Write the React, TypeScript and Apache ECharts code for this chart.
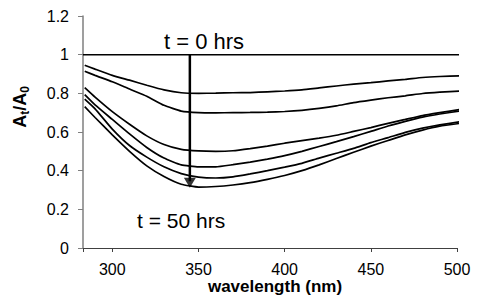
import React, { useEffect, useRef } from "react";
import * as echarts from "echarts";

const wavelengths = [284, 290, 300, 310, 320, 330, 340, 350, 360, 370, 380, 390, 400, 410, 420, 430, 440, 450, 460, 470, 480, 490, 502];

const baselineWl = [283, 502];
const baselineVals = [1, 1];

const curve1 = [0.945, 0.925, 0.893, 0.868, 0.842, 0.818, 0.803, 0.800, 0.801, 0.803, 0.804, 0.808, 0.812, 0.818, 0.828, 0.838, 0.848, 0.855, 0.864, 0.872, 0.882, 0.887, 0.890];
const curve2 = [0.914, 0.893, 0.86, 0.822, 0.785, 0.738, 0.708, 0.700, 0.699, 0.700, 0.701, 0.703, 0.706, 0.712, 0.722, 0.735, 0.752, 0.765, 0.777, 0.787, 0.799, 0.806, 0.812];
const curve3 = [0.829, 0.78, 0.705, 0.64, 0.58, 0.535, 0.51, 0.502, 0.500, 0.503, 0.514, 0.527, 0.542, 0.555, 0.568, 0.583, 0.603, 0.623, 0.645, 0.665, 0.685, 0.700, 0.717];
const curve4 = [0.793, 0.74, 0.665, 0.59, 0.52, 0.465, 0.43, 0.42, 0.420, 0.431, 0.444, 0.46, 0.478, 0.50, 0.525, 0.55, 0.576, 0.603, 0.631, 0.655, 0.677, 0.693, 0.709];
const curve5 = [0.77, 0.72, 0.615, 0.53, 0.47, 0.42, 0.385, 0.367, 0.362, 0.368, 0.383, 0.40, 0.418, 0.438, 0.465, 0.49, 0.515, 0.545, 0.571, 0.598, 0.62, 0.637, 0.653];
const curve6 = [0.731, 0.675, 0.585, 0.50, 0.425, 0.37, 0.33, 0.315, 0.318, 0.326, 0.338, 0.355, 0.375, 0.40, 0.43, 0.463, 0.495, 0.527, 0.556, 0.585, 0.61, 0.63, 0.645];

const curves = [curve1, curve2, curve3, curve4, curve5, curve6];

const arrowWl = 345;
const arrowStart = 1;
const arrowShaftEnd = 0.345;
const arrowHeadCenter = 0.338;

const xTickValues = [283, 300, 350, 400, 450, 500];
const xLabelValues = [300, 350, 400, 450, 500];

const labelTop = "t = 0 hrs";
const labelBottom = "t = 50 hrs";
const xTitle = "wavelength (nm)";

const FONT = "'Liberation Sans', Arial, Helvetica, sans-serif";

export default function App() {
  const ref = useRef<HTMLDivElement>(null);

  useEffect(() => {
    if (!ref.current) return;
    const chart = echarts.init(ref.current, undefined, { renderer: "svg" });

    const curveSeries = curves.map((c, i) => ({
      type: "line",
      name: "c" + i,
      data: wavelengths.map((w, j) => [w, c[j]]),
      symbol: "none",
      clip: false,
      smooth: 0.15,
      lineStyle: { color: "#000", width: 1.7 },
      z: 3,
    }));

    chart.setOption({
      animation: false,
      grid: { left: 83, right: 26, top: 16, bottom: 59, containLabel: false },
      xAxis: {
        type: "value",
        min: 283,
        max: 500,
        axisLine: { show: true, lineStyle: { color: "#404040", width: 1 } },
        axisTick: {
          show: true,
          inside: false,
          length: 4,
          customValues: xTickValues,
          lineStyle: { color: "#404040" },
        },
        axisLabel: {
          customValues: xLabelValues,
          margin: 13,
          fontSize: 16,
          fontFamily: FONT,
          color: "#000",
        },
        splitLine: { show: false },
      },
      yAxis: {
        type: "value",
        min: 0,
        max: 1.2,
        interval: 0.2,
        axisLine: { show: true, lineStyle: { color: "#7f7f7f", width: 1.5 } },
        axisTick: { show: true, inside: false, length: 5, lineStyle: { color: "#7f7f7f", width: 1 } },
        axisLabel: {
          margin: 14,
          fontSize: 16,
          fontFamily: FONT,
          color: "#000",
          padding: [7, 0, 0, 0],
        },
        splitLine: { show: false },
      },
      graphic: [
        {
          type: "text",
          x: 164,
          y: 41,
          style: { text: labelTop, fontSize: 22, fontFamily: FONT, fill: "#000", align: "left", verticalAlign: "middle" },
        },
        {
          type: "text",
          x: 137,
          y: 220,
          style: { text: labelBottom, fontSize: 21, fontFamily: FONT, fill: "#000", align: "left", verticalAlign: "middle" },
        },
        {
          type: "text",
          x: 275,
          y: 286,
          style: { text: xTitle, fontSize: 17, fontWeight: "bold", fontFamily: FONT, fill: "#000", align: "center", verticalAlign: "middle" },
        },
        {
          type: "text",
          x: 20,
          y: 107,
          rotation: Math.PI / 2,
          style: {
            text: "{b|A}{s|t}{b|/A}{s|0}",
            align: "center",
            verticalAlign: "middle",
            fill: "#000",
            rich: {
              b: { fontSize: 18, fontWeight: "bold", fontFamily: FONT, fill: "#000" },
              s: { fontSize: 12, fontWeight: "bold", fontFamily: FONT, fill: "#000", padding: [10, 0, 0, 0] },
            },
          },
        },
      ],
      series: [
        {
          type: "line",
          name: "t0",
          data: baselineWl.map((w, j) => [w, baselineVals[j]]),
          symbol: "none",
          clip: false,
          lineStyle: { color: "#000", width: 1.5 },
          z: 3,
        },
        ...curveSeries,
        {
          type: "line",
          name: "arrow",
          data: [
            [arrowWl, arrowStart],
            [arrowWl, arrowShaftEnd],
          ],
          symbol: "none",
          lineStyle: { color: "#000", width: 2.5 },
          z: 4,
        },
        {
          type: "scatter",
          name: "arrowhead",
          data: [[arrowWl, arrowHeadCenter]],
          symbol: "triangle",
          symbolRotate: 180,
          symbolSize: [12, 10],
          itemStyle: { color: "#000" },
          z: 5,
        },
      ],
    });

    return () => chart.dispose();
  }, []);

  return (
    <div
      ref={ref}
      style={{ position: "fixed", left: 0, top: 0, width: 483, height: 307, background: "#fff" }}
    />
  );
}
